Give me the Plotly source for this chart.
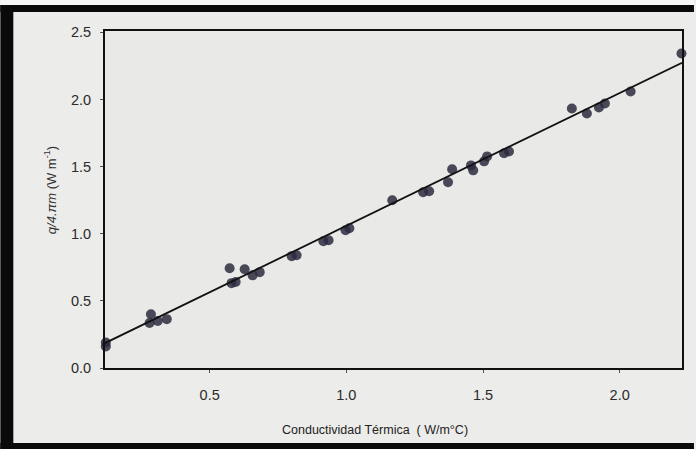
import plotly.graph_objects as go

# Measured thermal conductivity vs. q/4πm
conductividad = [0.12, 0.12, 0.285, 0.28, 0.31, 0.343, 0.573, 0.58, 0.595, 0.628,
                 0.657, 0.683, 0.80, 0.818, 0.916, 0.935, 0.997, 1.011, 1.168,
                 1.281, 1.303, 1.372, 1.387, 1.456, 1.464, 1.504, 1.515, 1.577,
                 1.595, 1.825, 1.88, 1.924, 1.946, 2.04, 2.226]
q_4pim = [0.16, 0.19, 0.40, 0.335, 0.35, 0.364, 0.743, 0.632, 0.64, 0.736,
          0.69, 0.714, 0.833, 0.84, 0.944, 0.952, 1.026, 1.041, 1.249,
          1.309, 1.316, 1.383, 1.48, 1.509, 1.472, 1.539, 1.576, 1.599,
          1.613, 1.933, 1.896, 1.94, 1.97, 2.06, 2.342]

# Linear fit parameters
fit_slope = 0.989
fit_intercept = 0.07

x_range = [0.117, 2.228]
y_range = [0.0, 2.51]
x_ticks = [0.5, 1.0, 1.5, 2.0]
y_ticks = [0.0, 0.5, 1.0, 1.5, 2.0, 2.5]

fit_x = x_range
fit_y = [fit_slope * v + fit_intercept for v in fit_x]

W, H = 696, 449
ml, mr, mt, mb = 105, 12, 31, 81
pw, ph = W - ml - mr, H - mt - mb
paper_col = "#ececea"


def px_x(p):
    return (p - ml) / pw


def px_y(p):
    return (H - mb - p) / ph


fig = go.Figure()
fig.add_trace(go.Scatter(
    x=conductividad, y=q_4pim, mode="markers",
    marker=dict(size=10, color="#2c2c40", opacity=0.85, line=dict(width=0)),
    showlegend=False, cliponaxis=False,
))
fig.add_trace(go.Scatter(
    x=fit_x, y=fit_y, mode="lines",
    line=dict(color="#111111", width=1.8),
    showlegend=False,
))

axis_common = dict(
    showgrid=False, zeroline=False, showline=True, linecolor="#111111",
    linewidth=2, mirror=True, ticks="outside", ticklen=3, tickcolor="#555555",
    tickfont=dict(family="Liberation Sans, Arial", size=14.5, color="#2b2b2b"),
)
fig.update_xaxes(range=x_range, tickvals=x_ticks, ticktext=["0.5", "1.0", "1.5", "2.0"],
                 ticklabelstandoff=10, **axis_common)
fig.update_yaxes(range=y_range, tickvals=y_ticks,
                 ticktext=["0.0", "0.5", "1.0", "1.5", "2.0", "2.5"],
                 ticklabelstandoff=6, **axis_common)

# Dark frame around the figure
frame = "#0a0a0a"
shapes = [
    dict(type="rect", xref="paper", yref="paper", x0=px_x(0), x1=px_x(W),
         y0=px_y(5), y1=px_y(12), fillcolor=frame, line=dict(width=0)),
    dict(type="rect", xref="paper", yref="paper", x0=px_x(0), x1=px_x(13),
         y0=px_y(5), y1=px_y(H), fillcolor=frame, line=dict(width=0)),
    dict(type="rect", xref="paper", yref="paper", x0=px_x(0), x1=px_x(W),
         y0=px_y(443), y1=px_y(H), fillcolor=frame, line=dict(width=0)),
    dict(type="rect", xref="paper", yref="paper", x0=px_x(0), x1=px_x(W),
         y0=px_y(0), y1=px_y(5), fillcolor="#f6f6f6", line=dict(width=0)),
]

annotations = [
    dict(text="Conductividad Térmica  ( W/m°C)", xref="paper", yref="paper",
         x=px_x(376), y=px_y(430), showarrow=False, xanchor="center", yanchor="middle",
         font=dict(family="Liberation Sans, Arial", size=12.5, color="#222222")),
    dict(text="<i>q/4.πm</i> (W m<sup>-1</sup>)", xref="paper", yref="paper",
         x=px_x(50), y=px_y(190), showarrow=False, textangle=-90,
         xanchor="center", yanchor="middle",
         font=dict(family="Liberation Sans, Arial", size=13, color="#333333")),
]

fig.update_layout(
    width=W, height=H, autosize=False,
    margin=dict(l=ml, r=mr, t=mt, b=mb),
    paper_bgcolor=paper_col, plot_bgcolor="#e9e9e7",
    shapes=shapes, annotations=annotations,
)

fig.write_html(
    "out.html",
    config={"displayModeBar": False},
    post_script=("document.documentElement.style.overflow='hidden';"
                 "document.body.style.overflow='hidden';"
                 "document.body.style.margin='0';"
                 "document.body.style.background='%s';" % paper_col),
)
